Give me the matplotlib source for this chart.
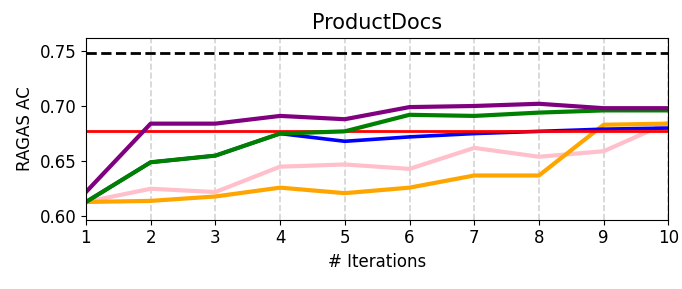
import matplotlib
matplotlib.use("Agg")
import matplotlib.pyplot as plt

iters = [1, 2, 3, 4, 5, 6, 7, 8, 9, 10]
purple = [0.622, 0.684, 0.684, 0.691, 0.688, 0.699, 0.700, 0.702, 0.698, 0.698]
green = [0.613, 0.649, 0.655, 0.675, 0.677, 0.692, 0.691, 0.694, 0.696, 0.696]
blue = [0.613, 0.649, 0.655, 0.675, 0.668, 0.672, 0.675, 0.677, 0.679, 0.680]
pink = [0.613, 0.625, 0.622, 0.645, 0.647, 0.643, 0.662, 0.654, 0.659, 0.685]
orange = [0.613, 0.614, 0.618, 0.626, 0.621, 0.626, 0.637, 0.637, 0.683, 0.684]
red_level = 0.677
black_level = 0.748

fig, ax = plt.subplots(figsize=(6.82, 2.89), dpi=100)
ax.plot(iters, pink, color="pink", lw=3)
ax.plot(iters, orange, color="orange", lw=3)
ax.plot(iters, blue, color="blue", lw=2.6)
ax.axhline(red_level, color="red", lw=2)
ax.plot(iters, green, color="green", lw=3)
ax.plot(iters, purple, color="purple", lw=3)
ax.axhline(black_level, color="black", lw=2, ls="--")

ax.set_xlim(1, 10)
ax.set_ylim(0.597, 0.762)
ax.set_xticks(iters)
ax.set_yticks([0.60, 0.65, 0.70, 0.75])
ax.xaxis.grid(True, ls="--", color="lightgray", lw=1.2)
ax.set_axisbelow(True)
ax.set_xlabel("# Iterations", fontsize=12)
ax.set_ylabel("RAGAS AC", fontsize=12)
ax.set_title("ProductDocs", fontsize=15)
ax.tick_params(labelsize=12)
fig.subplots_adjust(left=0.126, right=0.98, top=0.87, bottom=0.24)
fig.savefig("out.png", dpi=100)
